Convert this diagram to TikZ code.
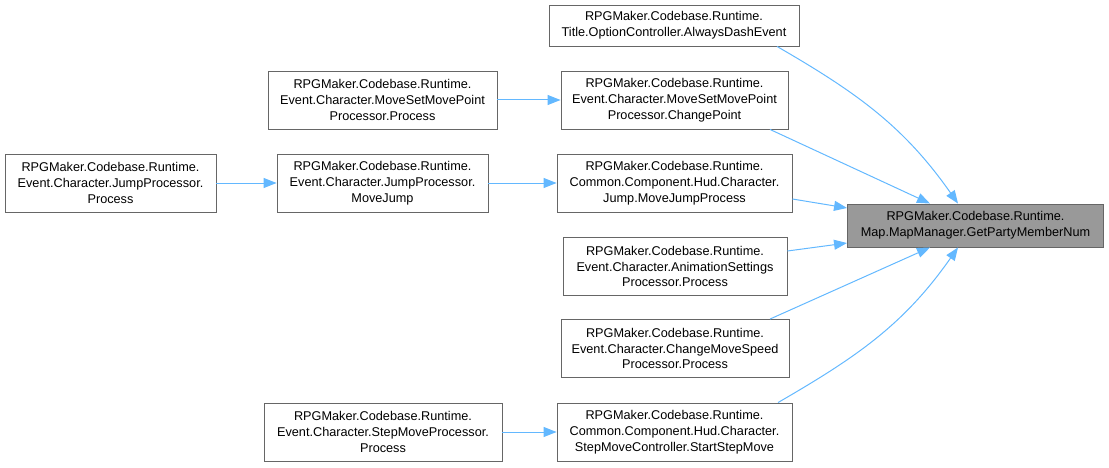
\documentclass[tikz,border=0pt]{standalone}
\usepackage{fontspec}
\setmainfont{Liberation Sans}
\usepackage{tikz}
\usetikzlibrary{shapes,arrows,arrows.meta,calc,positioning}
\definecolor{edgeblue}{HTML}{63B8FF}
\definecolor{boxgray}{HTML}{666666}
\definecolor{hitgray}{HTML}{999999}

\begin{document}
\begin{tikzpicture}[x=1pt, y=1pt, line width=0.9pt]
   \useasboundingbox (0,0) rectangle (1109,467);
   \begin{scope}[every node/.style={rectangle,draw=boxgray,fill=white,align=center,inner sep=0pt,
       minimum height=58pt,font=\fontsize{12.7}{15.8}\selectfont}]
    \node (v0) [fill=hitgray, minimum width=256pt, minimum height=43pt] at (975.5,241.5) {RPGMaker.Codebase.Runtime.\\Map.MapManager.GetPartyMemberNum};
    \node (v1) [minimum width=250pt, minimum height=41pt] at (674,441.5) {RPGMaker.Codebase.Runtime.\\Title.OptionController.AlwaysDashEvent};
    \node (v2) [minimum width=227pt] at (674.5,367) {RPGMaker.Codebase.Runtime.\\Event.Character.MoveSetMovePoint\\Processor.ChangePoint};
    \node (v3) [minimum width=229pt] at (382.5,367) {RPGMaker.Codebase.Runtime.\\Event.Character.MoveSetMovePoint\\Processor.Process};
    \node (v4) [minimum width=235pt] at (674.5,284) {RPGMaker.Codebase.Runtime.\\Common.Component.Hud.Character.\\Jump.MoveJumpProcess};
    \node (v5) [minimum width=211pt] at (382.5,284) {RPGMaker.Codebase.Runtime.\\Event.Character.JumpProcessor.\\MoveJump};
    \node (v6) [minimum width=211pt] at (110.5,284) {RPGMaker.Codebase.Runtime.\\Event.Character.JumpProcessor.\\Process};
    \node (v7) [minimum width=224pt] at (675,200.5) {RPGMaker.Codebase.Runtime.\\Event.Character.AnimationSettings\\Processor.Process};
    \node (v8) [minimum width=228pt] at (675,118.5) {RPGMaker.Codebase.Runtime.\\Event.Character.ChangeMoveSpeed\\Processor.Process};
    \node (v9) [minimum width=235pt] at (674.5,35) {RPGMaker.Codebase.Runtime.\\Common.Component.Hud.Character.\\StepMoveController.StartStepMove};
    \node (v10) [minimum width=238pt] at (383,35) {RPGMaker.Codebase.Runtime.\\Event.Character.StepMoveProcessor.\\Process};
   \end{scope}
   \begin{scope}[>={Triangle[length=13pt,width=10pt]}, every edge/.style={draw=edgeblue,line width=1pt,->}]
    \draw  ([xshift=103pt]v1.south) edge [out=-30, in=125] ([xshift=-17.5pt]v0.north);
    \draw  ([xshift=95.5pt]v2.south) edge ([xshift=-45.5pt]v0.north);
    \draw  ([yshift=-16pt]v4.east) edge ([yshift=17.5pt]v0.west);
    \draw  ([yshift=15.5pt]v7.east) edge ([yshift=-17.5pt]v0.west);
    \draw  ([xshift=95pt]v8.north) edge ([xshift=-45.5pt]v0.south);
    \draw  ([xshift=103.5pt]v9.north) edge [out=30, in=-125] ([xshift=-17.5pt]v0.south);

    \draw  (v3) edge (v2);
    \draw  (v5) edge (v4);
    \draw  (v6) edge (v5);
    \draw  (v10) edge (v9);
   \end{scope}
\end{tikzpicture}
\end{document}
